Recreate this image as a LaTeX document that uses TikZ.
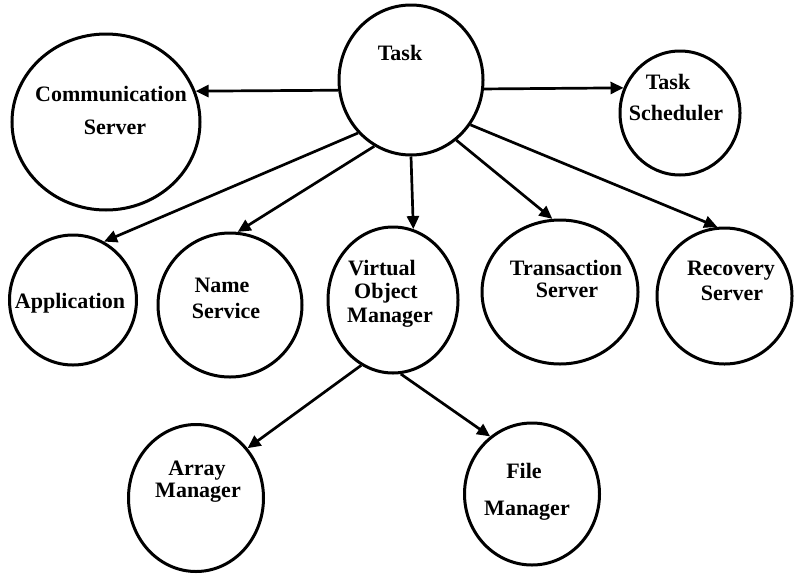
\documentclass[tikz,border=0pt]{standalone}
\usepackage{fontspec}
\setmainfont{Liberation Serif}
\usetikzlibrary{shapes.geometric,arrows.meta}
\begin{document}
\begin{tikzpicture}[x=1pt,y=-1pt,
  oval/.style={ellipse,draw,line width=3pt,inner sep=0pt,minimum width=#1},
  lbl/.style={anchor=base,inner sep=0pt,font=\fontsize{22}{22}\selectfont\bfseries},
  arr/.style={line width=2.7pt,-{Triangle[length=13pt,width=12pt]}}]
\useasboundingbox (0,0) rectangle (794,573);
\node[oval=144pt,minimum height=150pt] (task) at (411,80) {};
\node[oval=188pt,minimum height=176pt] (comm) at (106,122) {};
\node[oval=120pt,minimum height=124pt] (sched) at (680,113) {};
\node[oval=127pt,minimum height=130pt] (app) at (73,300) {};
\node[oval=144pt,minimum height=144pt] (name) at (230,305) {};
\node[oval=130pt,minimum height=146pt] (vom) at (393,300) {};
\node[oval=156pt,minimum height=144pt] (trans) at (560,292) {};
\node[oval=135pt,minimum height=136pt] (rec) at (724.5,296) {};
\node[oval=135pt,minimum height=147pt] (array) at (196,498) {};
\node[oval=135pt,minimum height=142pt] (file) at (532,494) {};

\node[lbl] (tTask) at (400,60) {Task};
\node[lbl] (tComm1) at (111,101) {Communication};
\node[lbl] (tComm2) at (115,134) {Server};
\node[lbl] (tSch1) at (668,89) {Task};
\node[lbl] (tSch2) at (676,120) {Scheduler};
\node[lbl] (tApp) at (70,308) {Application};
\node[lbl] (tName1) at (222,292) {Name};
\node[lbl] (tName2) at (226,318) {Service};
\node[lbl] (tVom1) at (382,275) {Virtual};
\node[lbl] (tVom2) at (386,298) {Object};
\node[lbl] (tVom3) at (390,322) {Manager};
\node[lbl] (tTr1) at (566,275) {Transaction};
\node[lbl] (tTr2) at (567,297) {Server};
\node[lbl] (tRec1) at (731,275) {Recovery};
\node[lbl] (tRec2) at (732,300) {Server};
\node[lbl] (tArr1) at (197,475) {Array};
\node[lbl] (tArr2) at (198,497) {Manager};
\node[lbl] (tFile1) at (524,478) {File};
\node[lbl] (tFile2) at (527,515) {Manager};

\draw[arr] (task.188) -- (comm.19);
\draw[arr] (task.353) -- (sched.156);
\draw[arr] (task.225) -- (app.62);
\draw[arr] (task.241) -- (name.84);
\draw[arr] (task.270) -- (vom.74);
\draw[arr] (task.307) -- (trans.96);
\draw[arr] (task.323) -- (rec.96);
\draw[arr] (vom.244) -- (array.44);
\draw[arr] (vom.276) -- (file.126);
\end{tikzpicture}
\end{document}
